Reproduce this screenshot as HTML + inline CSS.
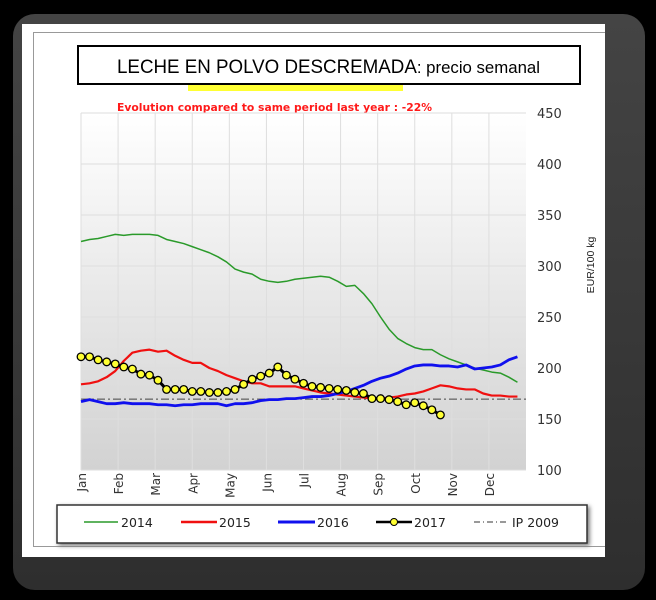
<!DOCTYPE html>
<html><head><meta charset="utf-8"><style>
body{margin:0;background:#000;width:656px;height:600px;overflow:hidden;font-family:"Liberation Sans",sans-serif}
#frame{position:absolute;left:13px;top:14px;width:632px;height:576px;border-radius:22px;background:linear-gradient(#444,#2e2e2e)}
#white{position:absolute;left:22px;top:24px;width:583px;height:533px;background:#fff}
#inner{position:absolute;left:33px;top:32px;width:571px;height:513px;border:1px solid #999;border-right:none}
</style></head><body>
<div id="frame"></div>
<div id="white"></div>
<div id="inner"></div>
<svg id="chart" width="656" height="600" style="position:absolute;left:0;top:0">
<defs><linearGradient id="bg" x1="0" y1="0" x2="0" y2="1"><stop offset="0" stop-color="#ffffff"/><stop offset="1" stop-color="#d2d2d2"/></linearGradient></defs>
<rect x="188" y="83" width="215" height="8" fill="#ffff33"/>
<rect x="78" y="46" width="502" height="38" fill="#fff" stroke="#000" stroke-width="2"/>
<text x="117" y="73" font-size="19" textLength="423" lengthAdjust="spacingAndGlyphs"><tspan>LECHE EN POLVO DESCREMADA</tspan><tspan font-size="17">: precio semanal</tspan></text>
<text x="117" y="111" font-size="10.5" font-weight="bold" fill="#ff1a1a" textLength="315" lengthAdjust="spacingAndGlyphs" style="font-family:'DejaVu Sans',sans-serif">Evolution compared to same period last year : -22%</text>
<rect x="81" y="113" width="445" height="357" fill="url(#bg)"/>
<g id="grid"></g><g id="series"></g><g id="axes"></g>
<text transform="translate(594,265) rotate(-90)" text-anchor="middle" font-size="10.5" fill="#222">EUR/100 kg</text>
<rect x="57" y="505" width="530" height="38" fill="#fff" stroke="#333" stroke-width="1.5" style="filter:drop-shadow(2px 2px 2px #777)"/>
<g style="font-family:'DejaVu Sans',sans-serif">
<g><line x1="84" y1="522" x2="118" y2="522" stroke="#2a9a2a" stroke-width="1.5"/><text x="121" y="527" font-size="12.5" fill="#222">2014</text></g>
<g><line x1="181" y1="522" x2="217" y2="522" stroke="#f01010" stroke-width="2.5"/><text x="219" y="527" font-size="12.5" fill="#222">2015</text></g>
<g><line x1="278" y1="522" x2="315" y2="522" stroke="#1010ee" stroke-width="3"/><text x="317" y="527" font-size="12.5" fill="#222">2016</text></g>
<g><line x1="376" y1="522" x2="412" y2="522" stroke="#000" stroke-width="2.5"/><circle cx="394" cy="522" r="3.5" fill="#ffff33" stroke="#000"/><text x="414" y="527" font-size="12.5" fill="#222">2017</text></g>
<g><line x1="474" y1="522" x2="508" y2="522" stroke="#333" stroke-dasharray="6,3,1,3"/><text x="512" y="527" font-size="12.5" fill="#222">IP 2009</text></g>
</g>
</svg>
<script>
const months=["Jan","Feb","Mar","Apr","May","Jun","Jul","Aug","Sep","Oct","Nov","Dec"];
const yTicks=[100,150,200,250,300,350,400,450];
const s2014=[324,326,327,329,331,330,331,331,331,330,326,324,322,319,316,313,309,304,297,294,292,287,285,284,285,287,288,289,290,289,285,280,281,273,263,250,238,229,224,220,218,218,213,209,206,203,200,198,196,195,191,186];
const s2015=[184,185,187,191,197,207,215,217,218,216,217,212,208,205,205,200,197,193,190,187,185,185,182,182,182,182,180,178,176,175,174,173,172,171,170,170,171,172,174,175,177,180,183,182,180,179,179,175,173,173,172,172];
const s2016=[167,169,167,165,165,166,165,165,165,164,164,163,164,164,165,165,165,163,165,165,166,168,169,169,170,170,171,172,172,173,175,177,180,183,187,190,192,195,199,202,203,203,202,202,201,203,199,200,201,203,208,211];
const s2017=[211,211,208,206,204,201,199,194,193,188,179,179,179,177,177,176,176,177,179,184,189,192,195,201,193,189,185,182,181,180,179,178,176,175,170,170,169,167,164,166,163,159,154];
const ip2009=169.5;
const NS="http://www.w3.org/2000/svg";
const X0=81,X1=526,Y0=470,Y1=113;
const xW=w=>X0+w*(X1-X0)/52;
const xM=m=>X0+m*(X1-X0)/12;
const yV=v=>Y0-(v-100)*(Y0-Y1)/350;
function mk(t,a,p){const e=document.createElementNS(NS,t);for(const k in a)e.setAttribute(k,a[k]);p.appendChild(e);return e;}
const grid=document.getElementById('grid'),ser=document.getElementById('series'),ax=document.getElementById('axes');
yTicks.forEach(v=>{
 const l=mk('line',{x1:X0,x2:X1,y1:yV(v),y2:yV(v),stroke:'#dedede','stroke-width':1},grid);
 
 
 const t=mk('text',{x:537,y:yV(v)+5,'font-size':13,fill:'#333',style:"font-family:'DejaVu Sans',sans-serif"},ax);t.textContent=v;
 
 
});
months.forEach((m,i)=>{
 const l=mk('line',{x1:xM(i),x2:xM(i),y1:Y1,y2:Y0,stroke:'#dedede','stroke-width':1},grid);
 
 
 const t=mk('text',{transform:`translate(${xM(i)+5},${Y0+3}) rotate(-90)`,'text-anchor':'end','font-size':12,fill:'#333',style:"font-family:'DejaVu Sans',sans-serif"},ax);t.textContent=m;
 
 
});
function line(arr,color,w,name){
 const p=mk('polyline',{points:arr.map((v,i)=>xW(i)+','+yV(v)).join(' '),fill:'none',stroke:color,'stroke-width':w,'stroke-linejoin':'round'},ser);
 
 
}
const ipl=mk('line',{x1:X0,x2:X1,y1:yV(ip2009),y2:yV(ip2009),stroke:'#444','stroke-width':1,'stroke-dasharray':'8,3,2,3'},ser);


line(s2014,'#2a9a2a',1.5,'series-2014');
line(s2015,'#f01010',2.2,'series-2015');
line(s2016,'#1010ee',2.8,'series-2016');
line(s2017,'#000',3,'series-2017');
s2017.forEach((v,i)=>{
 const c=mk('circle',{cx:xW(i),cy:yV(v),r:3.8,fill:'#ffff33',stroke:'#000','stroke-width':1.3},ser);
 
 
});
</script>
</body></html>
